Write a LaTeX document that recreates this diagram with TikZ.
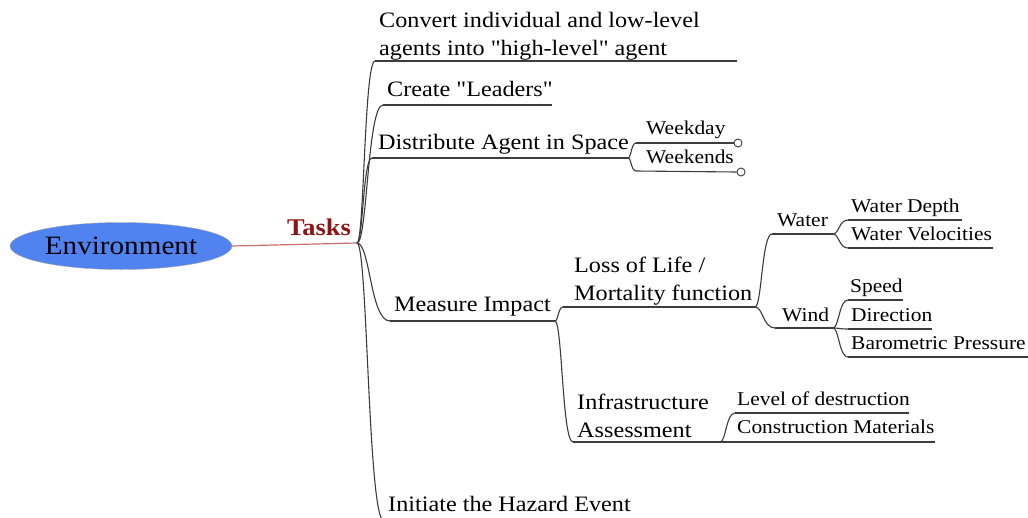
\documentclass[tikz,border=0pt]{standalone}
\usepackage{fontspec}
\setmainfont[FakeStretch=1.1,Ligatures=TeXOff]{Liberation Serif}
\usetikzlibrary{shapes.geometric,calc}
\definecolor{envblue}{RGB}{80,130,240}
\definecolor{taskred}{RGB}{140,20,20}
\definecolor{tline}{RGB}{205,110,110}
\definecolor{bline}{RGB}{60,60,60}
\begin{document}
\begin{tikzpicture}[x=1pt,y=-1pt,
  main/.style={anchor=base west, inner sep=0pt, font=\fontsize{22}{27.5}\selectfont, align=left},
  sub/.style={anchor=base west, inner sep=0pt, font=\fontsize{19.5}{24}\selectfont},
  uline/.style={draw=bline, line width=1.1pt},
  branch/.style={draw=bline, line width=1.1pt,
    to path={let \p1=(\tikztostart), \p2=(\tikztotarget) in
      .. controls ({\x1+0.4*(\x2-\x1)},\y1) and ({\x1+0.4*(\x2-\x1)},\y2) .. (\tikztotarget)}},
  marker/.style={circle, draw=bline, fill=white, line width=0.9pt, minimum size=8pt, inner sep=0pt},
]
\clip (0,0) rectangle (1028,517);

% root
\node[ellipse, draw=gray!70, fill=envblue, minimum width=222pt, minimum height=47pt, inner sep=0pt,
      font=\fontsize{26.5}{30}\selectfont] (env) at (121,246) {Environment};
\coordinate (T) at (357,243);
\draw[tline, line width=1.2pt] (env.east) -- (T);
\node[anchor=base west, inner sep=0pt, text=taskred, font=\fontsize{24}{28}\selectfont\bfseries] (tasks) at (287,235) {Tasks};

% level-1 coordinates
\coordinate (conv-s) at (375,61);  \coordinate (conv-e) at (737,61);
\coordinate (lead-s) at (383,105); \coordinate (lead-e) at (552,105);
\coordinate (dist-s) at (372,158); \coordinate (dist-e) at (628,158);
\coordinate (meas-s) at (390,321); \coordinate (meas-e) at (555,321);
\coordinate (init-s) at (384,521); \coordinate (init-e) at (640,521);

\node[main] (conv) at (379,55) {Convert individual and low-level\\agents into "high-level" agent};
\node[main] (lead) at (387,96) {Create "Leaders"};
\node[main] (dist) at (378,149) {Distribute Agent in Space};
\node[main] (meas) at (394,311) {Measure Impact};
\node[main] (init) at (388,511) {Initiate the Hazard Event};

\draw[uline] (conv-s) -- (conv-e);
\draw[uline] (lead-s) -- (lead-e);
\draw[uline] (dist-s) -- (dist-e);
\draw[uline] (meas-s) -- (meas-e);
\draw[uline] (init-s) -- (init-e);
\draw[branch] (T) to (conv-s);
\draw[branch] (T) to (lead-s);
\draw[branch] (T) to (dist-s);
\draw[branch] (T) to (meas-s);
\draw[branch] (T) to (init-s);

% Distribute children
\coordinate (wday-s) at (636,143); \node[marker] (wday-c) at (738,143) {};
\coordinate (wend-s) at (636,171); \node[marker] (wend-c) at (741,172) {};
\node[sub] (wday) at (646,134) {Weekday};
\node[sub] (wend) at (646,163) {Weekends};
\draw[uline] (wday-s) -- (wday-c.west);
\draw[uline] (wend-s) -- (wend-c.west);
\draw[branch] (dist-e) to (wday-s);
\draw[branch] (dist-e) to (wend-s);

% Measure children
\coordinate (loss-s) at (563,307); \coordinate (loss-e) at (755,307);
\coordinate (infra-s) at (573,442); \coordinate (infra-e) at (720,442);
\node[main] (loss) at (574,300) {Loss of Life /\\Mortality function};
\node[main] (infra) at (577,437) {Infrastructure\\Assessment};
\draw[uline] (loss-s) -- (loss-e);
\draw[uline] (infra-s) -- (infra-e);
\draw[branch] (meas-e) to (loss-s);
\draw[branch] (meas-e) to (infra-s);

% Loss children
\coordinate (water-s) at (772,234); \coordinate (water-e) at (833,234);
\coordinate (wind-s) at (775,328);  \coordinate (wind-e) at (833,328);
\node[sub] (water) at (777,226) {Water};
\node[sub] (wind) at (782,321) {Wind};
\draw[uline] (water-s) -- (water-e);
\draw[uline] (wind-s) -- (wind-e);
\draw[branch] (loss-e) to (water-s);
\draw[branch] (loss-e) to (wind-s);

% Water children
\coordinate (wdep-s) at (848,220); \coordinate (wdep-e) at (962,220);
\coordinate (wvel-s) at (848,248); \coordinate (wvel-e) at (993,248);
\node[sub] (wdep) at (851,212) {Water Depth};
\node[sub] (wvel) at (851,240) {Water Velocities};
\draw[uline] (wdep-s) -- (wdep-e);
\draw[uline] (wvel-s) -- (wvel-e);
\draw[branch] (water-e) to (wdep-s);
\draw[branch] (water-e) to (wvel-s);

% Wind children
\coordinate (speed-s) at (848,300); \coordinate (speed-e) at (903,300);
\coordinate (dir-s) at (848,329);   \coordinate (dir-e) at (932,329);
\coordinate (baro-s) at (848,357);  \coordinate (baro-e) at (1030,357);
\node[sub] (speed) at (850,292) {Speed};
\node[sub] (dir) at (851,321) {Direction};
\node[sub] (baro) at (851,349) {Barometric Pressure};
\draw[uline] (speed-s) -- (speed-e);
\draw[uline] (dir-s) -- (dir-e);
\draw[uline] (baro-s) -- (baro-e);
\draw[branch] (wind-e) to (speed-s);
\draw[branch] (wind-e) to (dir-s);
\draw[branch] (wind-e) to (baro-s);

% Infrastructure children
\coordinate (level-s) at (735,413);  \coordinate (level-e) at (909,413);
\coordinate (constr-s) at (735,442); \coordinate (constr-e) at (935,442);
\node[sub] (level) at (737,405) {Level of destruction};
\node[sub] (constr) at (737,433) {Construction Materials};
\draw[uline] (level-s) -- (level-e);
\draw[uline] (constr-s) -- (constr-e);
\draw[branch] (infra-e) to (level-s);
\draw[branch] (infra-e) to (constr-s);
\end{tikzpicture}
\end{document}
